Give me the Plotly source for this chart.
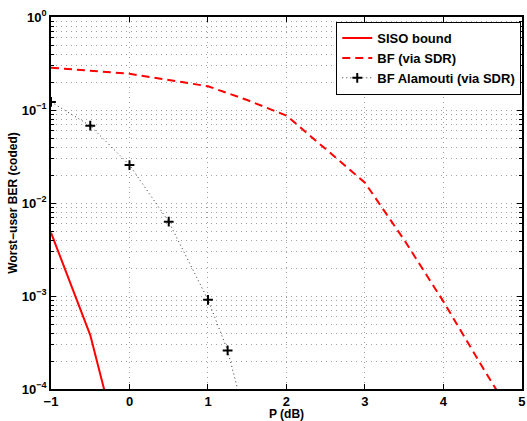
import plotly.graph_objects as go

# SISO bound
siso_x = [-1, -0.5, 0]
siso_y = [4.8e-3, 3.8e-4, 8.5e-6]

# BF (via SDR)
bf_x = [-1, -0.5, 0, 0.5, 1, 1.5, 2, 2.5, 3, 3.5, 4, 4.5, 5]
bf_y = [0.285, 0.265, 0.245, 0.21, 0.18, 0.128, 0.087, 0.038, 0.0165, 4.0e-3, 8.7e-4, 1.7e-4, 3.5e-5]

# BF Alamouti (via SDR)
al_x = [-1, -0.5, 0, 0.5, 1, 1.25, 1.5]
al_y = [0.122, 0.0678, 0.0256, 6.3e-3, 9.1e-4, 2.6e-4, 4.0e-5]

x_ticks = [-1, 0, 1, 2, 3, 4, 5]
x_ticklabels = ["−1", "0", "1", "2", "3", "4", "5"]
y_decades = [-4, -3, -2, -1, 0]
y_ticks = [10.0 ** d for d in y_decades]
y_ticklabels = ["10<sup>−4</sup>", "10<sup>−3</sup>", "10<sup>−2</sup>", "10<sup>−1</sup>", "10<sup>0</sup>"]
y_minor_mantissas = [2, 3, 4, 5, 6, 7, 8, 9]
y_minor = [m * 10.0 ** d for d in y_decades[:-1] for m in y_minor_mantissas]

FONT = "Liberation Sans, Arial, sans-serif"

fig = go.Figure()
fig.add_trace(go.Scatter(x=siso_x, y=siso_y, mode="lines", name="SISO bound",
                         line=dict(color="#ff0000", width=2)))
fig.add_trace(go.Scatter(x=bf_x, y=bf_y, mode="lines", name="BF (via SDR)",
                         line=dict(color="#ff0000", width=2, dash="8px,5px")))
fig.add_trace(go.Scatter(x=al_x, y=al_y, mode="lines+markers", name="BF Alamouti (via SDR)",
                         line=dict(color="#333333", width=1, dash="1px,3px"),
                         marker=dict(symbol="cross-thin", size=7, color="black",
                                     line=dict(width=2, color="black"))))

grid_col = "#a0a0a0"
grid_dash = "1px,4px"
fig.update_layout(
    width=527, height=421,
    margin=dict(l=51, r=5, t=17, b=32),
    paper_bgcolor="white", plot_bgcolor="white",
    font=dict(family=FONT, size=12, color="black", weight="bold"),
    showlegend=True,
    legend=dict(x=0.998, y=0.987, xanchor="right", yanchor="top",
                bgcolor="white", bordercolor="black", borderwidth=1.2,
                font=dict(family=FONT, size=13, color="black", weight="bold"),
                tracegroupgap=0, itemwidth=30),
    xaxis=dict(range=[-1, 5.0005], tickmode="array", tickvals=x_ticks, ticktext=x_ticklabels,
               showline=True, linecolor="black", linewidth=1.5, mirror="ticks",
               ticks="inside", ticklen=5, tickcolor="black",
               showgrid=True, gridcolor=grid_col, griddash=grid_dash, gridwidth=1,
               zeroline=False, automargin=False, ticklabeloverflow="allow",
               tickfont=dict(family=FONT, size=13, weight="bold"),
               title=dict(text="P (dB)", font=dict(family=FONT, size=12, weight="bold"), standoff=2)),
    yaxis=dict(type="log", range=[-4, 0], tickmode="array", tickvals=y_ticks, ticktext=y_ticklabels,
               showline=True, linecolor="black", linewidth=1.5, mirror="ticks",
               ticks="inside", ticklen=5, tickcolor="black",
               showgrid=True, gridcolor=grid_col, griddash=grid_dash, gridwidth=1,
               zeroline=False, automargin=False, ticklabeloverflow="allow",
               minor=dict(tickmode="array", tickvals=y_minor, showgrid=True,
                          gridcolor=grid_col, griddash=grid_dash, gridwidth=1,
                          ticks="inside", ticklen=3, tickcolor="black"),
               tickfont=dict(family=FONT, size=13, weight="bold"),
               title=dict(text="Worst−user BER (coded)", font=dict(family=FONT, size=12, weight="bold"), standoff=2)),
)

fig.write_html("out.html", config={"displayModeBar": False},
               post_script="document.body.style.margin='0';document.body.style.overflow='hidden';")
